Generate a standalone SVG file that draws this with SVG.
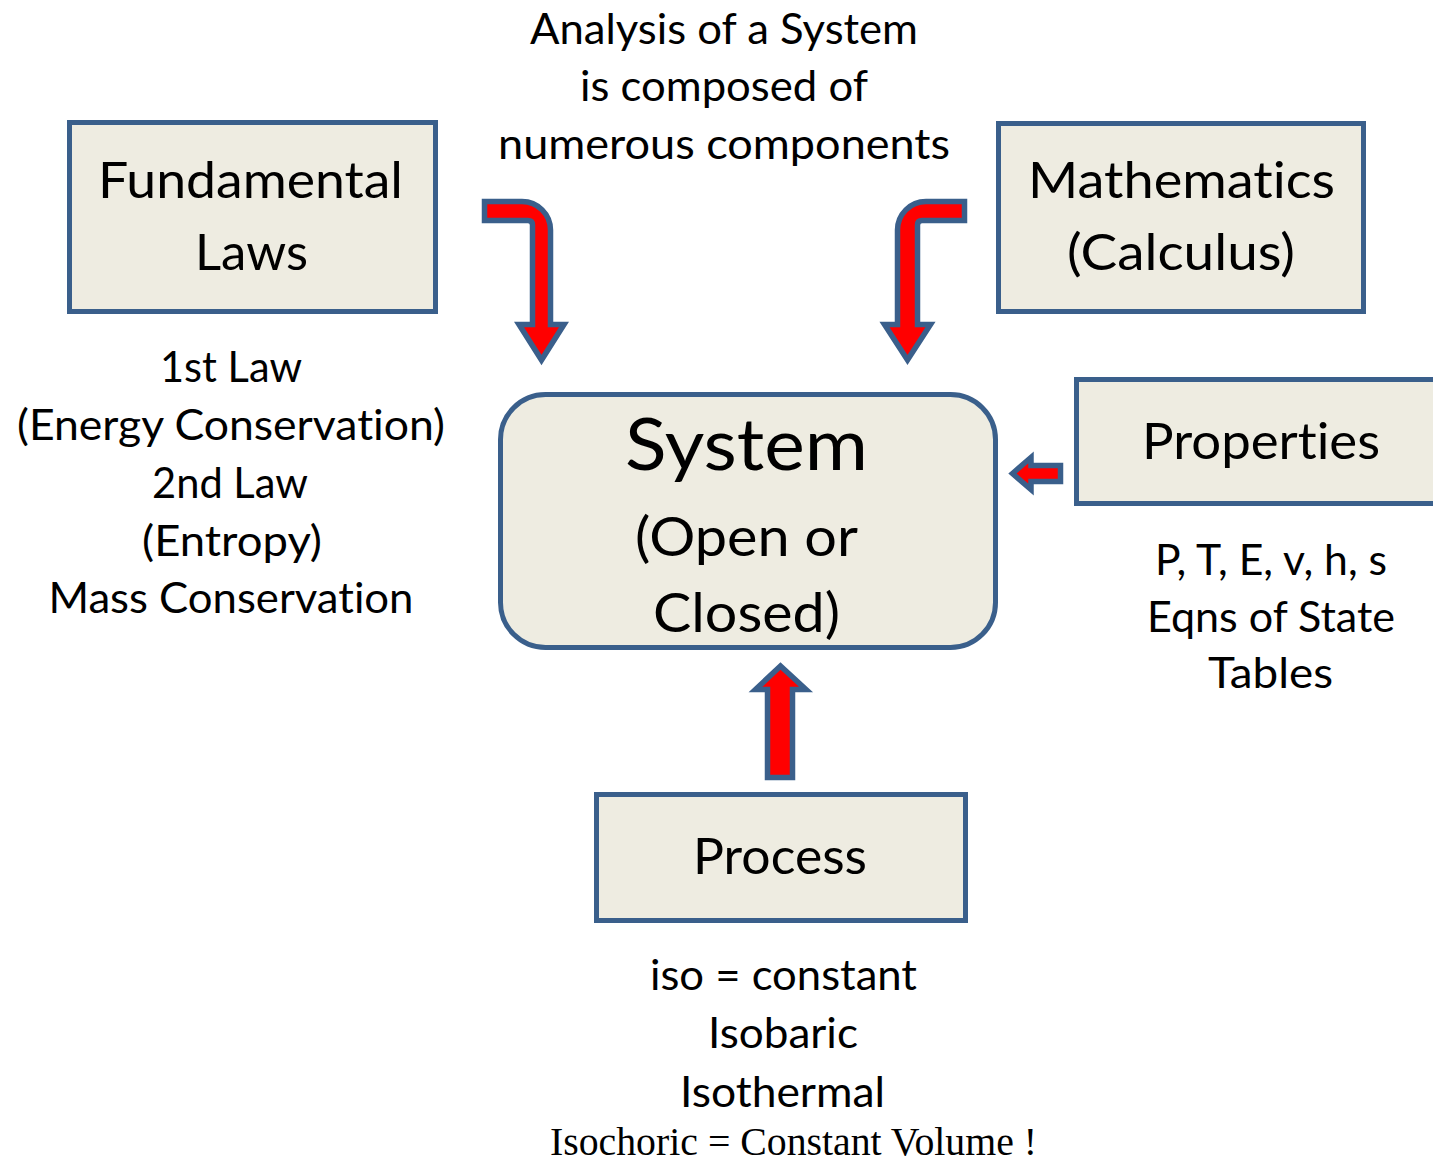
<svg xmlns="http://www.w3.org/2000/svg" width="1433" height="1162" viewBox="0 0 1433 1162">
<style>
.box{fill:#EEECE1;stroke:#3A5F8B;stroke-width:5}
.arrow{fill:#FF0000;stroke:#3A5F8B;stroke-width:5.5;stroke-linejoin:miter}
text{font-family:Lato,"Open Sans","Liberation Sans",sans-serif;fill:#000;text-anchor:middle;font-variant-ligatures:none;font-feature-settings:"liga" 0}
.t42{font-size:42px}
.t51{font-size:51px}
.serif{font-family:"Liberation Serif","Times New Roman",serif;font-size:41px}
</style>
<rect width="1433" height="1162" fill="#fff"/>

<g id="title">
<text class="t42" x="724" y="44" textLength="388" lengthAdjust="spacingAndGlyphs">Analysis of a System</text>
<text class="t42" x="724" y="101" textLength="288" lengthAdjust="spacingAndGlyphs">is composed of</text>
<text class="t42" x="724" y="159" textLength="452" lengthAdjust="spacingAndGlyphs">numerous components</text>
</g>

<g id="fundamental-laws">
<rect class="box" x="69.5" y="122.5" width="366" height="189"/>
<text class="t51" x="250.5" y="198" textLength="305" lengthAdjust="spacingAndGlyphs">Fundamental</text>
<text class="t51" x="251.5" y="270" textLength="113" lengthAdjust="spacingAndGlyphs">Laws</text>
</g>

<g id="laws-notes">
<text class="t42" x="231" y="382" textLength="142" lengthAdjust="spacingAndGlyphs">1st Law</text>
<text class="t42" x="231" y="440" textLength="428" lengthAdjust="spacingAndGlyphs">(Energy Conservation)</text>
<text class="t42" x="230" y="498" textLength="156" lengthAdjust="spacingAndGlyphs">2nd Law</text>
<text class="t42" x="232" y="556" textLength="180" lengthAdjust="spacingAndGlyphs">(Entropy)</text>
<text class="t42" x="231" y="613" textLength="365" lengthAdjust="spacingAndGlyphs">Mass Conservation</text>
</g>

<g id="mathematics">
<rect class="box" x="998.5" y="123.5" width="365" height="188"/>
<text class="t51" x="1181.5" y="198" textLength="307" lengthAdjust="spacingAndGlyphs">Mathematics</text>
<text class="t51" x="1181" y="270" textLength="228" lengthAdjust="spacingAndGlyphs">(Calculus)</text>
</g>

<g id="system">
<rect class="box" x="500.5" y="394.5" width="495" height="253" rx="45" ry="45"/>
<text x="746.5" y="470" font-size="71" textLength="243" lengthAdjust="spacingAndGlyphs">System</text>
<text x="746.5" y="556" font-size="55" textLength="223" lengthAdjust="spacingAndGlyphs">(Open or</text>
<text x="746.5" y="632" font-size="55" textLength="187" lengthAdjust="spacingAndGlyphs">Closed)</text>
</g>

<g id="properties">
<rect class="box" x="1076.5" y="379.5" width="380" height="124"/>
<text class="t51" x="1261" y="459" textLength="238" lengthAdjust="spacingAndGlyphs">Properties</text>
</g>

<g id="properties-notes">
<text class="t42" x="1271" y="575" textLength="232" lengthAdjust="spacingAndGlyphs">P, T, E, v, h, s</text>
<text class="t42" x="1271" y="632" textLength="248" lengthAdjust="spacingAndGlyphs">Eqns of State</text>
<text class="t42" x="1270.5" y="688" textLength="125" lengthAdjust="spacingAndGlyphs">Tables</text>
</g>

<g id="process">
<rect class="box" x="596.5" y="794.5" width="369" height="126"/>
<text class="t51" x="780" y="874" textLength="174" lengthAdjust="spacingAndGlyphs">Process</text>
</g>

<g id="process-notes">
<text class="t42" x="783.5" y="990" textLength="267" lengthAdjust="spacingAndGlyphs">iso = constant</text>
<text class="t42" x="783" y="1048" textLength="150" lengthAdjust="spacingAndGlyphs">Isobaric</text>
<text class="t42" x="782.5" y="1107" textLength="205" lengthAdjust="spacingAndGlyphs">Isothermal</text>
<text class="serif" x="793.5" y="1155" textLength="487" lengthAdjust="spacingAndGlyphs">Isochoric = Constant Volume !</text>
</g>

<g id="connectors">
<path class="arrow" d="M484.5 201.5 H522 A28.5 28.5 0 0 1 550.5 230 V324.5 H564 L541.5 360 L519 324.5 H532.5 V225 Q532.5 220.5 528 220.5 H484.5 Z"/>
<path class="arrow" d="M964.5 201.5 H926 A28.5 28.5 0 0 0 897.5 230 V324.5 H884.5 L907.5 360 L930.5 324.5 H917.5 V225 Q917.5 220.5 922 220.5 H964.5 Z"/>
<path class="arrow" d="M1012.5 473.5 L1031 457.5 V465.5 H1060.5 V481.5 H1031 V489.5 Z"/>
<path class="arrow" d="M780.5 666 L806 689.5 H792.5 V777.5 H767.5 V689.5 H755.5 Z"/>
</g>
</svg>
